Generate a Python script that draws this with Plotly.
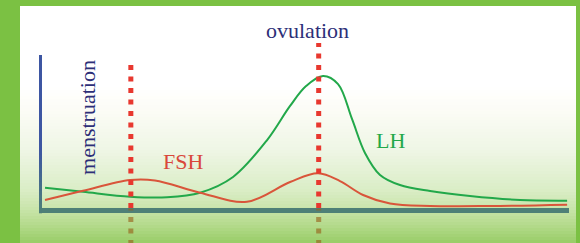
import plotly.graph_objects as go

# ---- data (cycle day, relative hormone level) ----
lh_day = [0.16, 2.18, 4.68, 6.64, 8.40, 10.15, 11.96, 13.18, 14.03, 14.93, 15.73,
          16.47, 17.16, 17.96, 19.02, 20.62, 22.74, 25.40, 27.90]
lh_level = [13.3, 10.6, 7.4, 7.0, 10.0, 20.3, 44.4, 66.7, 79.7, 86.3, 81.0,
            58.2, 36.0, 21.6, 15.0, 11.1, 7.8, 5.2, 4.8]

fsh_day = [0.16, 2.18, 4.68, 6.00, 8.40, 10.89, 13.18, 14.67, 15.83, 17.06,
           18.49, 20.62, 23.80, 27.90]
fsh_level = [5.2, 11.3, 18.3, 18.0, 10.0, 4.1, 17.0, 22.7, 17.6, 8.5,
             2.9, 1.3, 1.3, 2.2]

event_names = ["menstruation", "ovulation"]
event_days = [4.72, 14.7]

# ---- style ----
BORDER = "#7bc143"
LH_COL = "#22a84a"
FSH_COL = "#d9553a"
NAVY = "#2d2f78"
SERIF = "Liberation Serif, Times New Roman, serif"

W, H = 580, 243
L, R, T, B = 42, 11, 55, 35
pw, ph = W - L - R, H - T - B


def px_to_paper_x(px):
    return (px - L) / pw


def px_to_paper_y(py):
    return (H - B - py) / ph


def mix(c0, c1, t):
    return tuple(round(a + (b - a) * t) for a, b in zip(c0, c1))


# vertical background gradient for the inner panel
stops = [(6, (255, 255, 255)), (85, (255, 255, 255)), (110, (252, 252, 246)),
         (150, (239, 246, 229)), (190, (218, 237, 198)), (208, (202, 229, 172)),
         (225, (180, 218, 140)), (243, (152, 205, 102))]


def grad(py):
    for (y0, c0), (y1, c1) in zip(stops[:-1], stops[1:]):
        if y0 <= py <= y1:
            return "rgb(%d,%d,%d)" % mix(c0, c1, (py - y0) / (y1 - y0))
    return "rgb(%d,%d,%d)" % stops[-1][1]


shapes = []
step = 3
y = 6
while y < H:
    shapes.append(dict(type="rect", xref="paper", yref="paper", layer="below",
                       x0=px_to_paper_x(20), x1=px_to_paper_x(576),
                       y0=px_to_paper_y(y + step + 0.5), y1=px_to_paper_y(y),
                       fillcolor=grad(y + step / 2), line=dict(width=0)))
    y += step

# y-axis colour fade (blue -> teal) on its lower part
BLUE, TEAL = (61, 86, 162), (78, 128, 119)
seg_top, seg_bot, nseg = 150, 213, 14
for i in range(nseg):
    a = seg_top + (seg_bot - seg_top) * i / nseg
    b = seg_top + (seg_bot - seg_top) * (i + 1) / nseg
    shapes.append(dict(type="line", xref="paper", yref="paper",
                       x0=px_to_paper_x(40.5), x1=px_to_paper_x(40.5),
                       y0=px_to_paper_y(b + 0.3), y1=px_to_paper_y(a),
                       line=dict(color="rgb(%d,%d,%d)" % mix(BLUE, TEAL, (i + 0.5) / nseg), width=3)))

# dotted event lines (red above the axis, faded below)
DASH = "5px,6.5px"
tops = [px_to_paper_y(62), px_to_paper_y(43)]
for d, top in zip(event_days, tops):
    shapes.append(dict(type="line", xref="x", yref="paper", x0=d, x1=d, y0=0, y1=top,
                       line=dict(color="#e8382f", width=5, dash=DASH)))
    shapes.append(dict(type="line", xref="x", yref="paper", x0=d, x1=d,
                       y0=px_to_paper_y(H + 2), y1=-0.005,
                       line=dict(color="rgba(150,95,25,0.62)", width=5, dash=DASH)))

fig = go.Figure()
fig.add_trace(go.Scatter(x=lh_day, y=lh_level, mode="lines", name="LH",
                         line=dict(color=LH_COL, width=2, shape="spline", smoothing=1.0),
                         hoverinfo="skip"))
fig.add_trace(go.Scatter(x=fsh_day, y=fsh_level, mode="lines", name="FSH",
                         line=dict(color=FSH_COL, width=2, shape="spline", smoothing=1.0),
                         hoverinfo="skip"))

annotations = [
    dict(text="ovulation", x=14.08, y=px_to_paper_y(31), xref="x", yref="paper",
         showarrow=False, font=dict(family=SERIF, size=22, color=NAVY),
         xanchor="center", yanchor="middle"),
    dict(text="menstruation", x=2.39, y=px_to_paper_y(117), xref="x", yref="paper",
         showarrow=False, textangle=-90, font=dict(family=SERIF, size=22, color=NAVY),
         xanchor="center", yanchor="middle"),
    dict(text="FSH", x=7.49, y=30.7, xref="x", yref="y", showarrow=False,
         font=dict(family=SERIF, size=22, color="#d9483b"), xanchor="center", yanchor="middle"),
    dict(text="LH", x=18.49, y=44.4, xref="x", yref="y", showarrow=False,
         font=dict(family=SERIF, size=22, color=LH_COL), xanchor="center", yanchor="middle"),
]

fig.update_layout(
    width=W, height=H,
    margin=dict(l=L, r=R, t=T, b=B, pad=0),
    paper_bgcolor=BORDER,
    plot_bgcolor="rgba(0,0,0,0)",
    showlegend=False,
    shapes=shapes,
    annotations=annotations,
    xaxis=dict(range=[0, 28], showgrid=False, zeroline=False, showticklabels=False,
               ticks="", showline=True, linecolor="#4e8077", linewidth=5,
               layer="below traces", fixedrange=True),
    yaxis=dict(range=[0, 100], showgrid=False, zeroline=False, showticklabels=False,
               ticks="", showline=True, linecolor="#3d56a2", linewidth=3,
               layer="below traces", fixedrange=True),
)

fig.write_html("out.html", config={"displayModeBar": False},
               post_script="document.body.style.margin='0';document.body.style.overflow='hidden';")
